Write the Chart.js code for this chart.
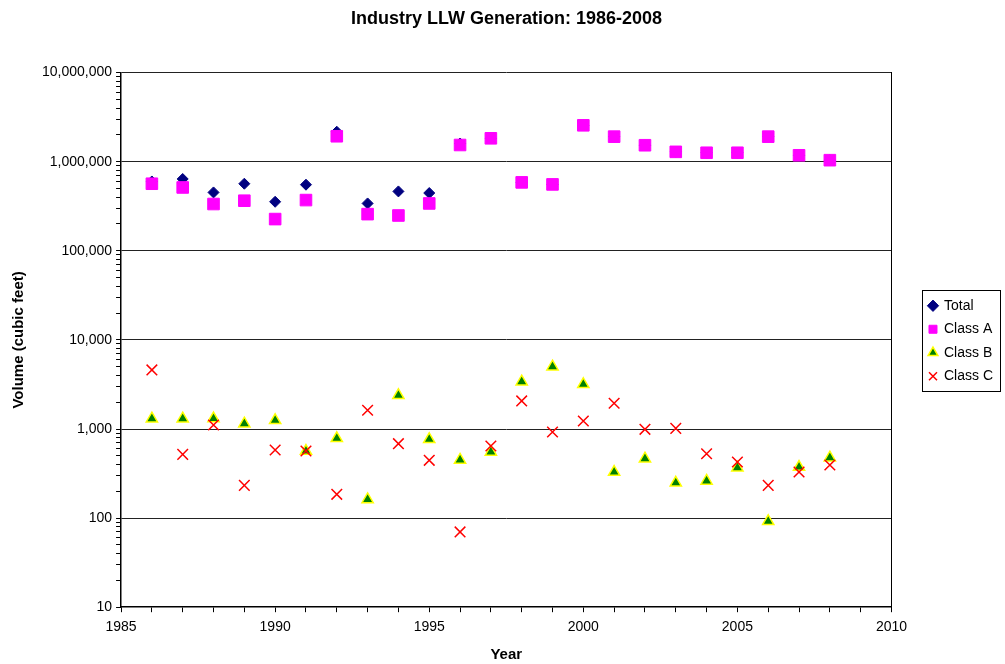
<!DOCTYPE html>
<html>
<head>
<meta charset="utf-8">
<script src="https://cdn.jsdelivr.net/npm/chart.js@4/dist/chart.umd.min.js"></script>
<style>
  html, body { margin: 0; padding: 0; background: #fff; }
  #wrap { width: 1005px; height: 664px; }
</style>
</head>
<body>
<div id="wrap"><canvas id="llw"></canvas></div>
<script>
// Data
const years = [1986, 1987, 1988, 1989, 1990, 1991, 1992, 1993, 1994, 1995, 1996, 1997,
               1998, 1999, 2000, 2001, 2002, 2003, 2004, 2005, 2006, 2007, 2008];
const totalVol = [600000, 640000, 452000, 566000, 355000, 552000, 2170000, 340000, 464000, 445000, 1600000, 1830000,
                  586000, 556000, 2560000, 1910000, 1530000, 1290000, 1260000, 1260000, 1910000, 1180000, 1040000];
const classA = [566000, 514000, 335000, 365000, 227000, 371000, 1930000, 258000, 249000, 340000, 1540000, 1830000,
                586000, 556000, 2560000, 1910000, 1530000, 1290000, 1260000, 1260000, 1910000, 1180000, 1040000];
const classB = [1306, 1306, 1310, 1148, 1253, 566, 785, 162, 2390, 766, 449, 552,
                3400, 5010, 3178, 329, 465, 249, 261, 368, 92, 374, 476];
const classC = [4603, 519, 1109, 233, 581, 566, 185, 1622, 684, 445, 70, 644,
                2065, 925, 1230, 1946, 991, 1016, 528, 426, 233, 329, 394];
const seriesNames = ['Total', 'Class A', 'Class B', 'Class C'];

function toPoints(vals) {
    return vals.map((v, i) => ({ x: years[i], y: v }));
}

const FONT = "'Liberation Sans', Arial, sans-serif";

// box around the legend, like Excel
const legendBorder = {
    id: 'legendBorder',
    afterDraw(chart) {
        const boxes = chart.legend.legendHitBoxes;
        if (!boxes || !boxes.length) return;
        let l = Infinity, t = Infinity, r = -Infinity, b = -Infinity;
        boxes.forEach(h => {
            l = Math.min(l, h.left); t = Math.min(t, h.top);
            r = Math.max(r, h.left + h.width); b = Math.max(b, h.top + h.height);
        });
        const ctx = chart.ctx;
        ctx.save();
        ctx.strokeStyle = '#000';
        ctx.lineWidth = 1;
        ctx.strokeRect(Math.round(l - 7) + 0.5, Math.round(t - 9) + 0.5, Math.round(r - l + 14), Math.round(b - t + 16));
        ctx.restore();
    }
};

const ctx = document.getElementById('llw').getContext('2d');
const llwChart = new Chart(ctx, {
    type: 'scatter',
    data: {
        datasets: [{
            label: seriesNames[0],
            data: toPoints(totalVol),
            pointStyle: 'rectRot',
            pointRadius: 5.5,
            backgroundColor: '#000080',
            borderColor: '#000080',
            borderWidth: 1,
            order: 4
        }, {
            label: seriesNames[1],
            data: toPoints(classA),
            pointStyle: 'rect',
            pointRadius: 8.2,
            backgroundColor: '#FF00FF',
            borderColor: '#FF00FF',
            borderWidth: 1,
            order: 3
        }, {
            label: seriesNames[2],
            data: toPoints(classB),
            pointStyle: 'triangle',
            pointRadius: 6.5,
            backgroundColor: '#008000',
            borderColor: '#FFFF00',
            borderWidth: 1.5,
            order: 2
        }, {
            label: seriesNames[3],
            data: toPoints(classC),
            pointStyle: 'crossRot',
            pointRadius: 7.5,
            backgroundColor: '#FF0000',
            borderColor: '#FF0000',
            borderWidth: 1.5,
            order: 1
        }]
    },
    options: {
        responsive: true,
        maintainAspectRatio: false,
        animation: false,
        layout: { padding: { left: 10, right: 2, top: 0, bottom: 0 } },
        plugins: {
            title: {
                display: true,
                text: 'Industry LLW Generation: 1986-2008',
                color: '#000',
                font: { family: FONT, size: 18, weight: 'bold' },
                padding: { top: 8, bottom: 43 }
            },
            legend: {
                position: 'right',
                title: { display: true, text: '', font: { size: 10 }, padding: 3 },
                labels: {
                    usePointStyle: true,
                    boxWidth: 8,
                    boxHeight: 8,
                    padding: 9.5,
                    color: '#000',
                    font: { family: FONT, size: 14 },
                    sort: (a, b) => a.datasetIndex - b.datasetIndex
                }
            },
            tooltip: { enabled: false }
        },
        scales: {
            x: {
                type: 'linear',
                min: 1985,
                max: 2010,
                afterBuildTicks(scale) {
                    const t = [];
                    for (let v = 1985; v <= 2010; v++) t.push({ value: v });
                    scale.ticks = t;
                },
                ticks: {
                    autoSkip: false,
                    maxRotation: 0,
                    color: '#000',
                    padding: 7,
                    font: { family: FONT, size: 14 },
                    callback: v => (v % 5 === 0 ? String(v) : '')
                },
                grid: { drawOnChartArea: false, color: '#000', tickLength: 5 },
                border: { color: '#000', width: 1.5 },
                title: {
                    display: true,
                    text: 'Year',
                    color: '#000',
                    font: { family: FONT, size: 15, weight: 'bold' },
                    padding: { top: 3, bottom: 0 }
                }
            },
            y: {
                type: 'logarithmic',
                min: 10,
                max: 10000000,
                afterBuildTicks(scale) {
                    const t = [];
                    for (let e = 1; e <= 7; e++) {
                        for (let m = 1; m <= 9; m++) {
                            const v = m * Math.pow(10, e);
                            if (v <= 10000000) t.push({ value: v, major: m === 1 });
                        }
                    }
                    scale.ticks = t;
                },
                ticks: {
                    autoSkip: false,
                    color: '#000',
                    padding: 4,
                    font: { family: FONT, size: 14 },
                    callback: v => {
                        const e = Math.log10(v);
                        return Math.abs(e - Math.round(e)) < 1e-9 ? Number(v).toLocaleString('en-US') : '';
                    }
                },
                grid: {
                    color: c => {
                        const e = Math.log10(c.tick.value);
                        return Math.abs(e - Math.round(e)) < 1e-9 && c.tick.value > 10 ? '#222' : 'rgba(0,0,0,0)';
                    },
                    tickColor: '#000',
                    tickLength: 5
                },
                border: { color: '#000', width: 1.5 },
                title: {
                    display: true,
                    text: 'Volume (cubic feet)',
                    color: '#000',
                    font: { family: FONT, size: 15, weight: 'bold' },
                    padding: { top: 0, bottom: 10 }
                }
            },
            yRight: {
                type: 'logarithmic',
                position: 'right',
                min: 10,
                max: 10000000,
                afterFit(scale) { scale.width = 28; },
                ticks: { display: false },
                grid: { drawOnChartArea: false, drawTicks: false },
                border: { color: '#000', width: 1 }
            }
        }
    },
    plugins: [legendBorder]
});
</script>
</body>
</html>
